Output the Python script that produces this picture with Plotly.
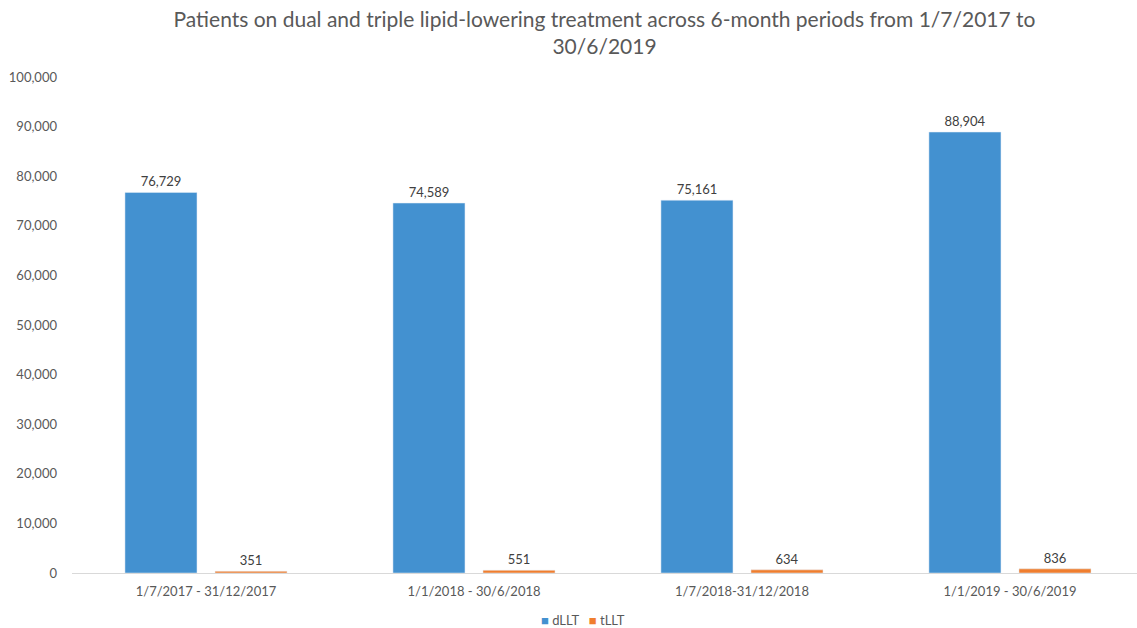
import plotly.graph_objects as go

periods = ["1/7/2017 - 31/12/2017", "1/1/2018 - 30/6/2018",
           "1/7/2018-31/12/2018", "1/1/2019 - 30/6/2019"]
dllt = [76729, 74589, 75161, 88904]
tllt = [351, 551, 634, 836]

FONT = "Lato"
GREY = "#595959"
BLUE = "#4391D0"
ORANGE = "#F07E2E"

fig = go.Figure()
fig.add_trace(go.Bar(
    name="dLLT", x=periods, y=dllt, marker_color=BLUE,
    text=[f"{v:,}" for v in dllt], textposition="outside",
    textfont=dict(family=FONT, size=13, color="#404040"), cliponaxis=False,
))
fig.add_trace(go.Bar(
    name="tLLT", x=periods, y=tllt, marker_color=ORANGE,
    text=[f"{v:,}" for v in tllt], textposition="outside",
    textfont=dict(family=FONT, size=13, color="#404040"), cliponaxis=False,
))

# compact legend drawn as a single annotation line
NB = "\u00a0"
legend_text = (f"<span style='color:{BLUE}'>■</span>{NB}dLLT{NB}{NB}{NB}"
               f"<span style='color:{ORANGE}'>■</span>{NB}tLLT")

fig.update_layout(
    width=1137, height=628,
    paper_bgcolor="white", plot_bgcolor="white",
    margin=dict(l=72, r=0, t=77, b=55),
    barmode="group", bargap=0.328, bargroupgap=0.2,
    title=dict(
        text="Patients on dual and triple lipid-lowering treatment across 6-month periods from 1/7/2017 to<br>30/6/2019",
        x=0.5, xref="paper", yref="container", y=1 - 27 / 628, yanchor="middle",
        font=dict(family=FONT, size=21, color=GREY),
    ),
    font=dict(family=FONT, size=13, color=GREY),
    showlegend=False,
    annotations=[dict(
        text=legend_text, xref="paper", yref="paper", x=0.48, y=-0.095,
        xanchor="center", yanchor="middle", showarrow=False,
        font=dict(family=FONT, size=13, color=GREY),
    )],
)
fig.update_xaxes(range=[-0.5, 3.474], showgrid=False, showline=True,
                 linecolor="#D9D9D9", linewidth=1,
                 ticks="", ticklabelstandoff=6,
                 tickfont=dict(family=FONT, size=13, color=GREY))
fig.update_yaxes(range=[0, 100000], dtick=10000, tickformat=",", showgrid=False,
                 zeroline=False, showline=False, ticks="", ticklen=0,
                 ticklabelstandoff=14,
                 tickfont=dict(family=FONT, size=13, color=GREY))

fig.write_html("out.html")
